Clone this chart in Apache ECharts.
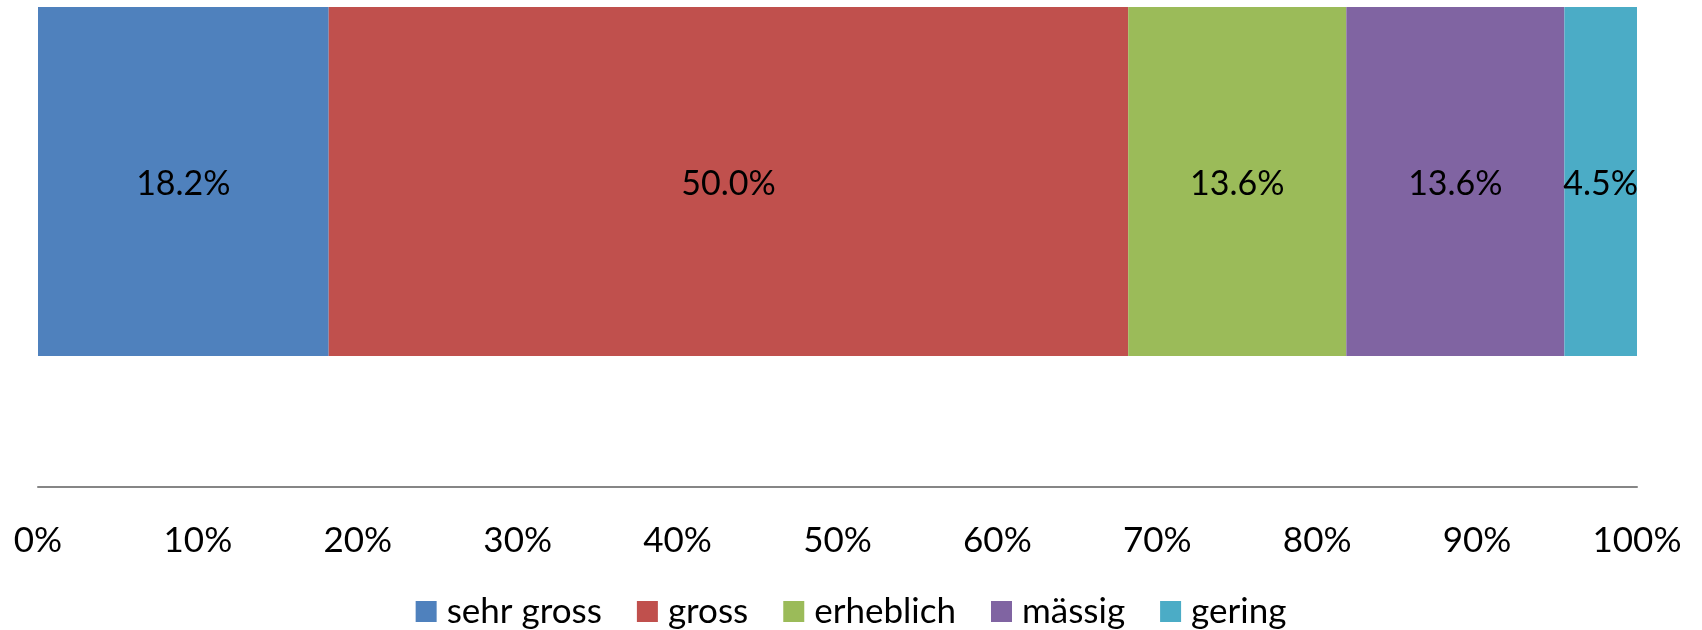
<!DOCTYPE html>
<html>
<head>
<meta charset="utf-8">
<script src="https://cdn.jsdelivr.net/npm/echarts@6/dist/echarts.min.js"></script>
<style>
html,body{margin:0;padding:0;background:#fff;overflow:hidden;}
#chart{width:1702px;height:754px;margin-top:-124px;}
</style>
</head>
<body>
<div id="chart"></div>
<script>
var categories = [''];
var seriesNames = ['sehr gross', 'gross', 'erheblich', 'mässig', 'gering'];
var seriesValues = [18.18, 50.00, 13.64, 13.64, 4.54];
var seriesColors = ['#4F81BD', '#C0504D', '#9BBB59', '#8064A2', '#4BACC6'];
var tickLabels = ['0%', '10%', '20%', '30%', '40%', '50%', '60%', '70%', '80%', '90%', '100%'];

var chart = echarts.init(document.getElementById('chart'));
var series = seriesNames.map(function (name, i) {
  return {
    name: name,
    type: 'bar',
    stack: 'total',
    data: [seriesValues[i]],
    barWidth: 349,
    itemStyle: { color: seriesColors[i] },
    label: {
      show: true,
      position: 'inside',
      color: '#000',
      fontFamily: 'Lato',
      fontSize: 34,
      offset: [0, 3],
      formatter: function (p) { return p.value.toFixed(1) + '%'; }
    },
    emphasis: { disabled: true }
  };
});

chart.setOption({
  animation: false,
  backgroundColor: '#fff',
  grid: { left: 38, right: 65, top: 0, bottom: 143, containLabel: false },
  xAxis: {
    type: 'value',
    min: 0,
    max: 100,
    interval: 10,
    axisLine: { show: true, lineStyle: { color: '#868686', width: 2 } },
    axisTick: { show: false },
    splitLine: { show: false },
    axisLabel: {
      margin: 36,
      color: '#000',
      fontFamily: 'Lato',
      fontSize: 35,
      formatter: function (v) { return tickLabels[Math.round(v / 10)]; }
    }
  },
  yAxis: {
    type: 'category',
    data: categories,
    axisLine: { show: false },
    axisTick: { show: false },
    axisLabel: { show: false }
  },
  legend: {
    data: seriesNames,
    left: 'center',
    top: 713,
    itemWidth: 21,
    itemHeight: 21,
    itemGap: 35,
    icon: 'rect',
    textStyle: {
      color: '#000',
      fontFamily: 'Lato',
      fontSize: 35,
      padding: [0, 0, 0, 5]
    }
  },
  series: series
});
</script>
</body>
</html>
